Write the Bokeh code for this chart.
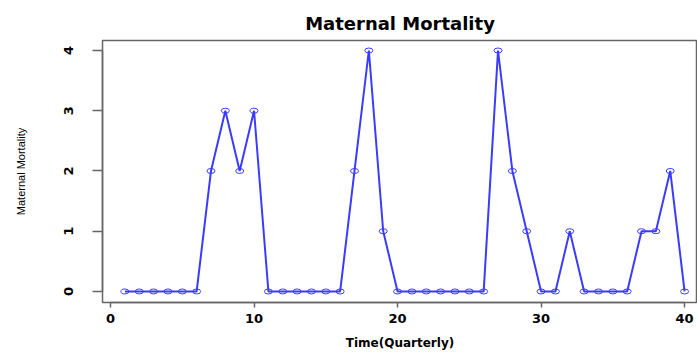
from bokeh.plotting import figure
from bokeh.models import Range1d, FixedTicker
from bokeh.embed import file_html
from bokeh.resources import INLINE

# Data (quarterly maternal mortality counts)
quarters = list(range(1, 41))
deaths = [0, 0, 0, 0, 0, 0, 2, 3, 2, 3,
          0, 0, 0, 0, 0, 0, 2, 4, 1, 0,
          0, 0, 0, 0, 0, 0, 4, 2, 1, 0,
          0, 1, 0, 0, 0, 0, 1, 1, 2, 0]
x_ticks = [0, 10, 20, 30, 40]
y_ticks = [0, 1, 2, 3, 4]

p = figure(width=697, height=354, output_backend="svg", toolbar_location=None,
           x_range=Range1d(-0.56, 40.9), y_range=Range1d(-0.183, 4.166),
           min_border_left=102, min_border_right=0, min_border_top=40,
           min_border_bottom=52, title="Maternal Mortality")

p.title.align = "center"
p.title.vertical_align = "top"
p.title.text_font = "DejaVu Sans"
p.title.text_font_style = "bold"
p.title.text_font_size = "18px"
p.title.text_color = "black"

p.grid.visible = False
p.outline_line_color = "#666666"
p.outline_line_width = 1.5
p.background_fill_color = "white"
p.border_fill_color = "white"

p.line(quarters, deaths, line_color="#3b3bff", line_width=2)
p.ellipse(quarters, deaths, width=8, height=5, width_units="screen",
          height_units="screen", fill_alpha=0, line_color="#3b3bff", line_width=1)

for ax in (p.xaxis[0], p.yaxis[0]):
    ax.axis_line_color = "#666666"
    ax.axis_line_width = 1.5
    ax.major_tick_line_color = "#666666"
    ax.major_tick_line_width = 1.5
    ax.minor_tick_line_color = None
    ax.major_tick_in = 0
    ax.major_label_text_font = "DejaVu Sans"
    ax.major_label_text_font_style = "bold"
    ax.major_label_text_font_size = "13px"
    ax.major_label_text_color = "black"
    ax.axis_label_text_color = "black"
    ax.axis_label_text_font_style = "normal"

p.xaxis.ticker = FixedTicker(ticks=x_ticks)
p.xaxis.bounds = (0, 40)
p.xaxis.major_tick_out = 5
p.xaxis.major_label_standoff = 6
p.xaxis.axis_label = "Time(Quarterly)"
p.xaxis.axis_label_text_font = "DejaVu Sans"
p.xaxis.axis_label_text_font_style = "bold"
p.xaxis.axis_label_text_font_size = "12px"
p.xaxis.axis_label_standoff = 10

p.yaxis.ticker = FixedTicker(ticks=y_ticks)
p.yaxis.bounds = (0, 4)
p.yaxis.major_tick_out = 10
p.yaxis.major_label_orientation = "vertical"
p.yaxis.major_label_standoff = 19
p.yaxis.axis_label = "Maternal Mortality"
p.yaxis.axis_label_text_font = "Liberation Sans"
p.yaxis.axis_label_text_font_size = "11px"
p.yaxis.axis_label_standoff = 35

open("out.html", "w").write(file_html(p, INLINE))
